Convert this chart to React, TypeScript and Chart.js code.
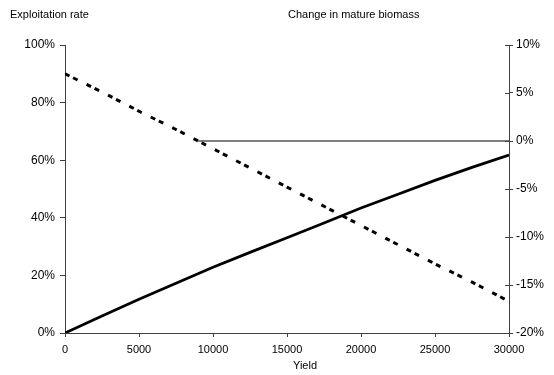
import React, { useEffect, useRef } from "react";
import { Chart, registerables } from "chart.js";

Chart.register(...registerables);

const yields = [0, 2500, 5000, 7500, 10000, 12500, 15000, 17500, 20000, 22500, 25000, 27500, 30000];
const exploitationRate = [0, 5.9, 11.7, 17.3, 22.8, 28.0, 33.1, 38.2, 43.4, 48.2, 53.0, 57.5, 61.8];
const biomassChange = [7.0, 5.1, 3.1, 1.2, -0.8, -2.8, -4.8, -6.8, -8.8, -10.8, -12.8, -14.7, -16.7];
const referenceYields = [9000, 30000];
const referenceLevel = [0, 0];

const leftTitle = "Exploitation rate";
const rightTitle = "Change in mature biomass";
const xTitle = "Yield";

const FONT = '"Liberation Sans", Arial, sans-serif';

export default function App() {
  const ref = useRef<HTMLCanvasElement | null>(null);

  useEffect(() => {
    if (!ref.current) return;
    const titlePlugin = {
      id: "titles",
      afterDraw(chart: any) {
        const ctx = chart.ctx;
        ctx.save();
        ctx.fillStyle = "#000";
        ctx.font = `11px ${FONT}`;
        ctx.textBaseline = "middle";
        ctx.textAlign = "left";
        ctx.fillText(leftTitle, 10, 15);
        ctx.fillText(rightTitle, 288, 15);
        ctx.textAlign = "center";
        ctx.fillText(xTitle, 305, 366);
        const y1 = chart.scales.y1;
        ctx.strokeStyle = "#404040";
        ctx.lineWidth = 1;
        y1.ticks.forEach((t: any) => {
          const py = Math.round(y1.getPixelForValue(t.value)) + 0.5;
          ctx.beginPath();
          ctx.moveTo(y1.left - 4, py);
          ctx.lineTo(y1.left, py);
          ctx.stroke();
        });
        ctx.restore();
      },
    };

    const chart = new Chart(ref.current, {
      type: "line",
      data: {
        datasets: [
          {
            label: leftTitle,
            data: yields.map((x, i) => ({ x, y: exploitationRate[i] })),
            yAxisID: "y",
            borderColor: "#000",
            borderWidth: 2.75,
            pointRadius: 0,
            tension: 0,
          },
          {
            label: rightTitle,
            data: yields.map((x, i) => ({ x, y: biomassChange[i] })),
            yAxisID: "y1",
            borderColor: "#000",
            borderWidth: 3,
            borderDash: [5, 4, 5, 10],
            pointRadius: 0,
            tension: 0,
          },
          {
            label: "reference",
            data: referenceYields.map((x, i) => ({ x, y: referenceLevel[i] })),
            yAxisID: "y1",
            borderColor: "#555",
            borderWidth: 1.5,
            pointRadius: 0,
          },
        ],
      },
      options: {
        responsive: false,
        maintainAspectRatio: false,
        animation: false,
        layout: { padding: { top: 45, left: 0, right: 0, bottom: 0 } },
        plugins: { legend: { display: false }, tooltip: { enabled: false }, title: { display: false } },
        scales: {
          x: {
            type: "linear",
            min: 0,
            max: 30000,
            afterFit: (s: any) => { s.height = 42; },
            ticks: { stepSize: 5000, color: "#000", font: { family: FONT, size: 11 }, padding: 6, maxRotation: 0, callback: (v: any) => String(v) },
            grid: { display: true, drawOnChartArea: false, drawTicks: true, tickLength: 4, color: "#404040" },
            border: { display: true, color: "#404040", width: 1 },
          },
          y: {
            position: "left",
            min: 0,
            max: 100,
            afterFit: (s: any) => { s.width = 65; },
            ticks: { stepSize: 20, color: "#000", font: { family: FONT, size: 12 }, padding: 5, callback: (v: any) => `${v}%` },
            grid: { display: true, drawOnChartArea: false, drawTicks: true, tickLength: 5, color: "#404040" },
            border: { display: true, color: "#404040", width: 1 },
          },
          y1: {
            position: "right",
            min: -20,
            max: 10,
            afterFit: (s: any) => { s.width = 45; },
            ticks: { stepSize: 5, color: "#000", font: { family: FONT, size: 12 }, padding: 3, callback: (v: any) => `${v}%` },
            grid: { display: true, drawOnChartArea: false, drawTicks: true, tickLength: 4, color: "#404040" },
            border: { display: true, color: "#404040", width: 1 },
          },
        },
      },
      plugins: [titlePlugin],
    } as any);
    return () => chart.destroy();
  }, []);

  return (
    <canvas
      ref={ref}
      width={554}
      height={375}
      style={{ position: "absolute", left: 0, top: 0, width: 554, height: 375 }}
    />
  );
}
